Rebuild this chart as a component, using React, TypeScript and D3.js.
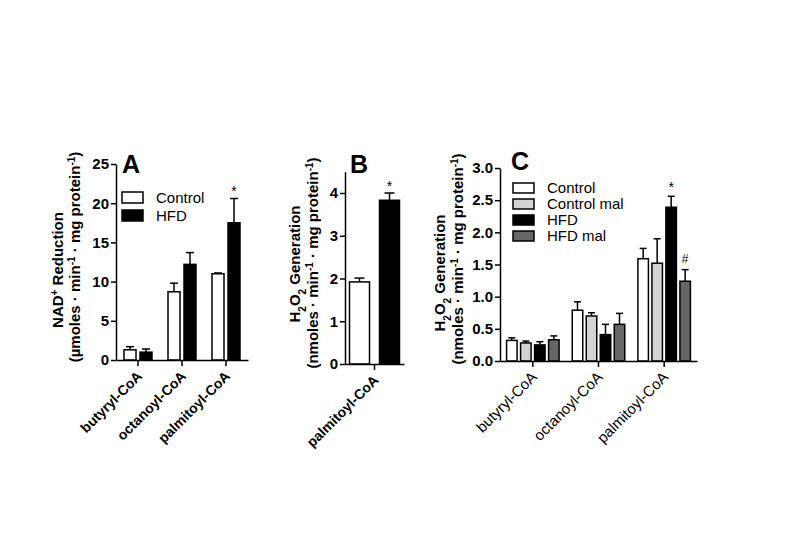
import React, { useEffect, useRef } from 'react';
import * as d3 from 'd3';

const FONT = 'Arial, "Liberation Sans", Helvetica, sans-serif';

// ---- panel A: NAD+ reduction
const catsA = ['butyryl-CoA', 'octanoyl-CoA', 'palmitoyl-CoA'];
const seriesA = ['Control', 'HFD'];
const controlA = [1.3, 8.7, 11.0];
const controlErrA = [0.4, 1.1, 0.1];
const hfdA = [1.0, 12.2, 17.5];
const hfdErrA = [0.4, 1.5, 3.1];
const ticksA = [0, 5, 10, 15, 20, 25];

// ---- panel B: H2O2 generation, palmitoyl only
const catsB = ['palmitoyl-CoA'];
const seriesB = ['Control', 'HFD'];
const controlB = [1.92];
const controlErrB = [0.09];
const hfdB = [3.83];
const hfdErrB = [0.17];
const ticksB = [0, 1, 2, 3, 4];

// ---- panel C: H2O2 generation with malonate
const catsC = ['butyryl-CoA', 'octanoyl-CoA', 'palmitoyl-CoA'];
const seriesC = ['Control', 'Control mal', 'HFD', 'HFD mal'];
const controlC = [0.32, 0.79, 1.59];
const controlErrC = [0.04, 0.13, 0.16];
const controlMalC = [0.28, 0.70, 1.52];
const controlMalErrC = [0.03, 0.05, 0.38];
const hfdC = [0.25, 0.41, 2.39];
const hfdErrC = [0.05, 0.16, 0.17];
const hfdMalC = [0.33, 0.57, 1.24];
const hfdMalErrC = [0.06, 0.17, 0.18];
const ticksC = [0, 0.5, 1.0, 1.5, 2.0, 2.5, 3.0];

const fills: Record<string, string> = {
  'Control': '#ffffff',
  'Control mal': '#d3d3d3',
  'HFD': '#000000',
  'HFD mal': '#666666',
};

type Seg = { t: string; s?: 'super' | 'sub' };
type YLine = { x: number; y: number; segs: Seg[] };
type Mark = { series: number; cat: number; ch: string; off: number };

type PanelProps = {
  left: number; right: number; top: number; bottom: number;
  ymax: number; ticks: number[]; fmt: (d: number) => string;
  cats: string[]; series: string[]; values: number[][]; errs: number[][];
  groupW: number; gap: number; cap: number;
  letter: string; letterX: number; letterY: number;
  ylines: YLine[];
  legendX: number; legendY: number; legendStep: number; boxH: number;
  marks: Mark[];
  catBold: boolean; catSize: number;
};

function Panel(p: PanelProps) {
  const yRef = useRef<SVGGElement>(null);
  const xRef = useRef<SVGGElement>(null);

  const x = d3.scaleBand<string>().domain(p.cats).range([p.left, p.right]);
  const y = d3.scaleLinear().domain([0, p.ymax]).range([p.bottom, p.top]);
  const inner = d3.scaleBand<string>().domain(p.series)
    .range([-p.groupW / 2, p.groupW / 2]).paddingInner(p.gap);

  useEffect(() => {
    const ya = d3.axisLeft(y).tickValues(p.ticks).tickFormat(p.fmt as any)
      .tickSize(5).tickSizeOuter(0).tickPadding(2);
    const yg = d3.select(yRef.current!).call(ya as any);
    yg.selectAll('path,line').attr('stroke', '#000').attr('stroke-width', 1.5);
    yg.selectAll('text').attr('font-family', FONT).attr('font-weight', 'bold')
      .attr('font-size', 15).attr('fill', '#000');

    const xa = d3.axisBottom(x).tickSize(6).tickSizeOuter(0);
    const xg = d3.select(xRef.current!).call(xa as any);
    xg.selectAll('path,line').attr('stroke', '#000').attr('stroke-width', 1.5);
    xg.selectAll('text')
      .attr('x', 0).attr('y', 0).attr('dy', 0)
      .attr('transform', 'translate(5,17) rotate(-45)')
      .attr('text-anchor', 'end')
      .attr('font-family', FONT)
      .attr('font-weight', p.catBold ? 'bold' : 'normal')
      .attr('font-size', p.catSize).attr('fill', '#000');
  }, []);

  const cx = (c: string) => (x(c) as number) + x.bandwidth() / 2;

  return (
    <g>
      {p.series.map((s, si) =>
        p.cats.map((c, ci) => {
          const v = p.values[si][ci];
          const e = p.errs[si][ci];
          const bx = cx(c) + (inner(s) as number);
          const bw = inner.bandwidth();
          const mid = bx + bw / 2;
          return (
            <g key={s + c}>
              <line x1={mid} x2={mid} y1={y(v)} y2={y(v + e)} stroke="#000" strokeWidth={1.5} />
              <line x1={mid - p.cap / 2} x2={mid + p.cap / 2} y1={y(v + e)} y2={y(v + e)} stroke="#000" strokeWidth={1.5} />
              <rect x={bx} y={y(v)} width={bw} height={y(0) - y(v)} fill={fills[s]} stroke="#000" strokeWidth={1.5} />
            </g>
          );
        })
      )}
      {p.marks.map((m, i) => {
        const s = p.series[m.series];
        const c = p.cats[m.cat];
        const mid = cx(c) + (inner(s) as number) + inner.bandwidth() / 2;
        const top = y(p.values[m.series][m.cat] + p.errs[m.series][m.cat]);
        return (
          <text key={i} x={mid} y={top - m.off} textAnchor="middle" fontFamily={FONT}
            fontSize={m.ch === '#' ? 12 : 14} fill="#000">{m.ch}</text>
        );
      })}
      <g ref={yRef} transform={`translate(${p.left},0)`} />
      <g ref={xRef} transform={`translate(0,${p.bottom})`} />
      <text x={p.letterX} y={p.letterY} fontFamily={FONT} fontWeight="bold" fontSize={25}>{p.letter}</text>
      {p.ylines.map((l, i) => (
        <text key={i} transform={`translate(${l.x},${l.y}) rotate(-90)`} textAnchor="middle"
          fontFamily={FONT} fontWeight="bold" fontSize={15} fill="#000">
          {l.segs.map((sg, j) => (
            <tspan key={j} baselineShift={sg.s} fontSize={sg.s ? 10 : 15}>{sg.t}</tspan>
          ))}
        </text>
      ))}
      {p.series.length > 1 && p.legendX > 0 && p.series.map((s, i) => (
        <g key={s} transform={`translate(${p.legendX},${p.legendY + i * p.legendStep})`}>
          <rect x={0} y={0} width={21} height={p.boxH} fill={fills[s]} stroke="#000" strokeWidth={1.5} />
          <text x={34} y={p.boxH} fontFamily={FONT} fontSize={15} fill="#000">{s}</text>
        </g>
      ))}
    </g>
  );
}

const unitLine = (pre: string): Seg[] => [
  { t: `(${pre}moles · min` }, { t: '-1', s: 'super' },
  { t: ' · mg protein' }, { t: '-1', s: 'super' }, { t: ')' },
];
const h2o2: Seg[] = [
  { t: 'H' }, { t: '2', s: 'sub' }, { t: 'O' }, { t: '2', s: 'sub' }, { t: ' Generation' },
];

export default function App() {
  return (
    <div style={{ position: 'absolute', left: 0, top: 0 }}>
      <svg width={794} height={553} style={{ display: 'block' }}>
        <rect width={794} height={553} fill="#fff" />
        <Panel
          left={116} right={248} top={164} bottom={360}
          ymax={25} ticks={ticksA} fmt={(d) => String(d)}
          cats={catsA} series={seriesA}
          values={[controlA, hfdA]} errs={[controlErrA, hfdErrA]}
          groupW={28} gap={0.25} cap={8}
          letter="A" letterX={122} letterY={173}
          ylines={[
            { x: 63, y: 270, segs: [{ t: 'NAD' }, { t: '+', s: 'super' }, { t: ' Reduction' }] },
            { x: 80, y: 257, segs: unitLine('µ') },
          ]}
          legendX={122} legendY={192} legendStep={18} boxH={11}
          marks={[{ series: 1, cat: 2, ch: '*', off: 2 }]}
          catBold={true} catSize={14}
        />
        <Panel
          left={345} right={404} top={364 - 4.5 * 42.75} bottom={364}
          ymax={4.5} ticks={ticksB} fmt={(d) => String(d)}
          cats={catsB} series={seriesB}
          values={[controlB, hfdB]} errs={[controlErrB, hfdErrB]}
          groupW={50} gap={0.333} cap={10}
          letter="B" letterX={350} letterY={173}
          ylines={[
            { x: 300, y: 264, segs: h2o2 },
            { x: 318, y: 263, segs: unitLine('n') },
          ]}
          legendX={0} legendY={0} legendStep={0} boxH={0}
          marks={[{ series: 1, cat: 0, ch: '*', off: 2 }]}
          catBold={true} catSize={14}
        />
        <Panel
          left={500} right={697} top={168} bottom={361}
          ymax={3} ticks={ticksC} fmt={d3.format('.1f')}
          cats={catsC} series={seriesC}
          values={[controlC, controlMalC, hfdC, hfdMalC]}
          errs={[controlErrC, controlMalErrC, hfdErrC, hfdMalErrC]}
          groupW={52.5} gap={0.25} cap={7}
          letter="C" letterX={511} letterY={170}
          ylines={[
            { x: 445, y: 273, segs: h2o2 },
            { x: 463, y: 259, segs: unitLine('n') },
          ]}
          legendX={513} legendY={183} legendStep={16} boxH={10}
          marks={[
            { series: 2, cat: 2, ch: '*', off: 4 },
            { series: 3, cat: 2, ch: '#', off: 7 },
          ]}
          catBold={false} catSize={15}
        />
      </svg>
    </div>
  );
}
